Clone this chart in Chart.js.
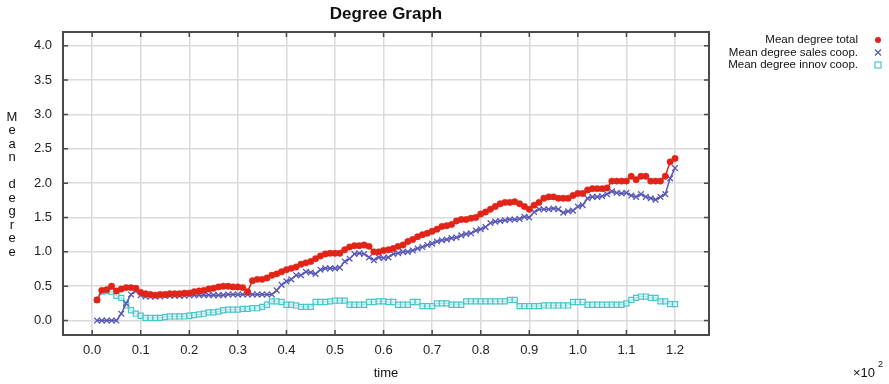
<!DOCTYPE html>
<html>
<head>
<meta charset="utf-8">
<title>Degree Graph</title>
<script src="https://cdn.jsdelivr.net/npm/chart.js@4"></script>
<style>
  html, body { margin: 0; padding: 0; background: #fff; }
  canvas { display: block; }
</style>
</head>
<body>
<canvas id="degreeChart" width="889" height="384"></canvas>
<script>
// time steps (x axis is shown in units of 10^2)
const timeSteps = [
  1, 2, 3, 4, 5, 6, 7, 8, 9, 10, 11, 12, 13, 14, 15, 16, 17, 18, 19, 20,
  21, 22, 23, 24, 25, 26, 27, 28, 29, 30, 31, 32, 33, 34, 35, 36, 37, 38, 39, 40,
  41, 42, 43, 44, 45, 46, 47, 48, 49, 50, 51, 52, 53, 54, 55, 56, 57, 58, 59, 60,
  61, 62, 63, 64, 65, 66, 67, 68, 69, 70, 71, 72, 73, 74, 75, 76, 77, 78, 79, 80,
  81, 82, 83, 84, 85, 86, 87, 88, 89, 90, 91, 92, 93, 94, 95, 96, 97, 98, 99, 100,
  101, 102, 103, 104, 105, 106, 107, 108, 109, 110, 111, 112, 113, 114, 115, 116, 117, 118, 119, 120
];

// Mean degree total
const meanTotal = [
  0.30, 0.44, 0.45, 0.50, 0.43, 0.46, 0.48, 0.48, 0.47, 0.41,
  0.39, 0.38, 0.37, 0.38, 0.38, 0.39, 0.39, 0.39, 0.40, 0.40,
  0.42, 0.43, 0.44, 0.46, 0.47, 0.49, 0.50, 0.50, 0.49, 0.49,
  0.48, 0.42, 0.58, 0.60, 0.60, 0.62, 0.66, 0.68, 0.71, 0.74,
  0.76, 0.78, 0.82, 0.84, 0.86, 0.90, 0.94, 0.97, 0.98, 0.98,
  0.98, 1.03, 1.07, 1.09, 1.09, 1.10, 1.08, 1.00, 1.00, 1.02,
  1.03, 1.05, 1.08, 1.10, 1.15, 1.18, 1.22, 1.25, 1.27, 1.30,
  1.33, 1.37, 1.38, 1.40, 1.45, 1.47, 1.47, 1.49, 1.50, 1.55,
  1.58, 1.62, 1.66, 1.70, 1.72, 1.72, 1.73, 1.70, 1.66, 1.62,
  1.68, 1.72, 1.78, 1.80, 1.80, 1.78, 1.78, 1.78, 1.82, 1.85,
  1.85, 1.90, 1.92, 1.92, 1.92, 1.93, 2.03, 2.03, 2.03, 2.03,
  2.10, 2.05, 2.10, 2.10, 2.03, 2.03, 2.03, 2.10, 2.31, 2.36
];

// Mean degree sales coop.
const meanSales = [
  0.00, 0.00, 0.00, 0.00, 0.00, 0.10, 0.25, 0.38, 0.43, 0.37,
  0.35, 0.35, 0.35, 0.35, 0.36, 0.36, 0.36, 0.36, 0.36, 0.37,
  0.37, 0.37, 0.37, 0.37, 0.37, 0.37, 0.37, 0.38, 0.38, 0.38,
  0.38, 0.38, 0.38, 0.38, 0.38, 0.38, 0.38, 0.44, 0.52, 0.57,
  0.60, 0.66, 0.66, 0.71, 0.70, 0.68, 0.74, 0.76, 0.76, 0.76,
  0.77, 0.86, 0.90, 0.97, 0.98, 0.97, 0.92, 0.88, 0.92, 0.91,
  0.92, 0.97, 0.98, 1.00, 1.00, 1.02, 1.05, 1.07, 1.10, 1.12,
  1.15, 1.17, 1.18, 1.20, 1.21, 1.24, 1.26, 1.27, 1.31, 1.33,
  1.36, 1.42, 1.44, 1.45, 1.46, 1.47, 1.47, 1.48, 1.51, 1.50,
  1.58, 1.62, 1.62, 1.62, 1.63, 1.62, 1.57, 1.59, 1.60, 1.66,
  1.68, 1.78, 1.80, 1.80, 1.81, 1.84, 1.88, 1.86, 1.85, 1.86,
  1.82, 1.80, 1.84, 1.80, 1.78, 1.76, 1.80, 1.84, 2.07, 2.22
];

// Mean degree innov coop.
const meanInnov = [
  0.30, 0.42, 0.43, 0.42, 0.36, 0.33, 0.22, 0.15, 0.10, 0.07,
  0.04, 0.04, 0.04, 0.04, 0.05, 0.06, 0.06, 0.06, 0.06, 0.07,
  0.08, 0.09, 0.10, 0.12, 0.12, 0.13, 0.15, 0.16, 0.16, 0.16,
  0.17, 0.17, 0.18, 0.18, 0.20, 0.23, 0.28, 0.28, 0.27, 0.23,
  0.23, 0.22, 0.20, 0.20, 0.20, 0.27, 0.27, 0.27, 0.28, 0.29,
  0.29, 0.29, 0.23, 0.23, 0.23, 0.23, 0.27, 0.27, 0.28, 0.28,
  0.27, 0.27, 0.23, 0.23, 0.23, 0.27, 0.27, 0.21, 0.21, 0.21,
  0.25, 0.25, 0.25, 0.23, 0.23, 0.23, 0.28, 0.28, 0.28, 0.28,
  0.28, 0.28, 0.28, 0.28, 0.28, 0.30, 0.30, 0.21, 0.21, 0.21,
  0.21, 0.21, 0.22, 0.22, 0.22, 0.22, 0.22, 0.22, 0.27, 0.27,
  0.27, 0.23, 0.23, 0.23, 0.23, 0.23, 0.23, 0.23, 0.23, 0.25,
  0.30, 0.33, 0.35, 0.35, 0.33, 0.33, 0.28, 0.28, 0.24, 0.24
];

const seriesLabels = ["Mean degree total", "Mean degree sales coop.", "Mean degree innov coop."];
const yTicks = [0.0, 0.5, 1.0, 1.5, 2.0, 2.5, 3.0, 3.5, 4.0];

const RED = "rgb(226,36,24)";
const BLUE = "rgb(88,88,184)";
const CYAN = "rgb(72,198,202)";
const FONT = "'Liberation Sans', Arial, sans-serif";

function toPoints(vals) {
  return timeSteps.map((t, i) => ({ x: t, y: vals[i] }));
}

// frame, inward tick marks, titles and the legend drawn by hand
const decorPlugin = {
  id: "decor",
  afterDraw(chart) {
    const { ctx, chartArea: a, scales } = chart;
    const xs = scales.x, ys = scales.y;
    ctx.save();

    // box
    ctx.strokeStyle = "#4a4a4a";
    ctx.lineWidth = 2;
    ctx.strokeRect(a.left, a.top, a.right - a.left, a.bottom - a.top);

    // little ticks pointing inward
    ctx.lineWidth = 1.5;
    ctx.beginPath();
    xs.ticks.forEach(t => {
      const px = xs.getPixelForValue(t.value);
      ctx.moveTo(px, a.bottom); ctx.lineTo(px, a.bottom - 5);
      ctx.moveTo(px, a.top); ctx.lineTo(px, a.top + 5);
    });
    ys.ticks.forEach(t => {
      const py = ys.getPixelForValue(t.value);
      ctx.moveTo(a.left, py); ctx.lineTo(a.left + 5, py);
      ctx.moveTo(a.right, py); ctx.lineTo(a.right - 5, py);
    });
    ctx.stroke();

    const cx = (a.left + a.right) / 2;
    ctx.fillStyle = "#111";
    ctx.textAlign = "center";
    ctx.textBaseline = "middle";

    // title
    ctx.font = "bold 17px " + FONT;
    ctx.fillText("Degree Graph", cx, 14);

    // x title
    ctx.font = "13px " + FONT;
    ctx.fillText("time", cx, 373);

    // y title, one letter per line
    const letters = "Mean degree".split("");
    letters.forEach((ch, i) => {
      if (ch !== " ") ctx.fillText(ch, 12, 117 + i * 13.5);
    });

    // x10^2 multiplier
    ctx.textAlign = "left";
    ctx.fillText("\u00d710", 853, 373);
    ctx.font = "9px " + FONT;
    ctx.fillText("2", 878, 365);

    // legend
    ctx.font = "11.5px " + FONT;
    ctx.textAlign = "right";
    const rows = [40, 52.5, 65];
    rows.forEach((ry, i) => {
      ctx.fillStyle = "#111";
      ctx.fillText(seriesLabels[i], 858, ry);
    });
    const mx = 878;
    // red dot
    ctx.fillStyle = RED;
    ctx.beginPath(); ctx.arc(mx, rows[0], 3, 0, Math.PI * 2); ctx.fill();
    // blue cross
    ctx.strokeStyle = BLUE; ctx.lineWidth = 1.2;
    ctx.beginPath();
    ctx.moveTo(mx - 3, rows[1] - 3); ctx.lineTo(mx + 3, rows[1] + 3);
    ctx.moveTo(mx + 3, rows[1] - 3); ctx.lineTo(mx - 3, rows[1] + 3);
    ctx.stroke();
    // cyan square
    ctx.strokeStyle = CYAN;
    ctx.strokeRect(mx - 3, rows[2] - 3, 6, 6);

    ctx.restore();
  }
};

new Chart(document.getElementById("degreeChart"), {
  type: "line",
  data: {
    datasets: [
      {
        label: seriesLabels[0],
        data: toPoints(meanTotal),
        borderColor: RED,
        backgroundColor: RED,
        borderWidth: 1.5,
        pointStyle: "circle",
        pointRadius: 3.2,
        pointBorderWidth: 0.5,
        tension: 0
      },
      {
        label: seriesLabels[1],
        data: toPoints(meanSales),
        borderColor: BLUE,
        backgroundColor: BLUE,
        borderWidth: 1.5,
        pointStyle: "crossRot",
        pointRadius: 4,
        pointBorderWidth: 1.3,
        tension: 0
      },
      {
        label: seriesLabels[2],
        data: toPoints(meanInnov),
        borderColor: CYAN,
        backgroundColor: "rgba(235,250,250,0.6)",
        borderWidth: 1.2,
        pointStyle: "rect",
        pointRadius: 3.6,
        pointBorderWidth: 1.2,
        tension: 0
      }
    ]
  },
  options: {
    responsive: false,
    animation: false,
    devicePixelRatio: 1,
    events: [],
    layout: { padding: { left: 0, top: 32, right: 180, bottom: 0 } },
    plugins: {
      legend: { display: false },
      title: { display: false },
      tooltip: { enabled: false }
    },
    scales: {
      x: {
        type: "linear",
        min: -6,
        max: 127,
        afterFit(s) { s.height = 49; },
        grid: { color: "#dadada", lineWidth: 1.5, drawTicks: false },
        border: { display: false },
        ticks: {
          stepSize: 10,
          includeBounds: false,
          padding: 8,
          color: "#222",
          font: { family: FONT, size: 13 },
          maxRotation: 0,
          callback: v => (v / 100).toFixed(1)
        }
      },
      y: {
        min: -0.21,
        max: 4.2,
        afterFit(s) { s.width = 63; },
        afterBuildTicks(s) { s.ticks = yTicks.map(v => ({ value: v })); },
        grid: { color: "#dadada", lineWidth: 1.5, drawTicks: false },
        border: { display: false },
        ticks: {
          padding: 11,
          color: "#222",
          font: { family: FONT, size: 13 },
          callback: v => v.toFixed(1)
        }
      }
    }
  },
  plugins: [decorPlugin]
});
</script>
</body>
</html>
